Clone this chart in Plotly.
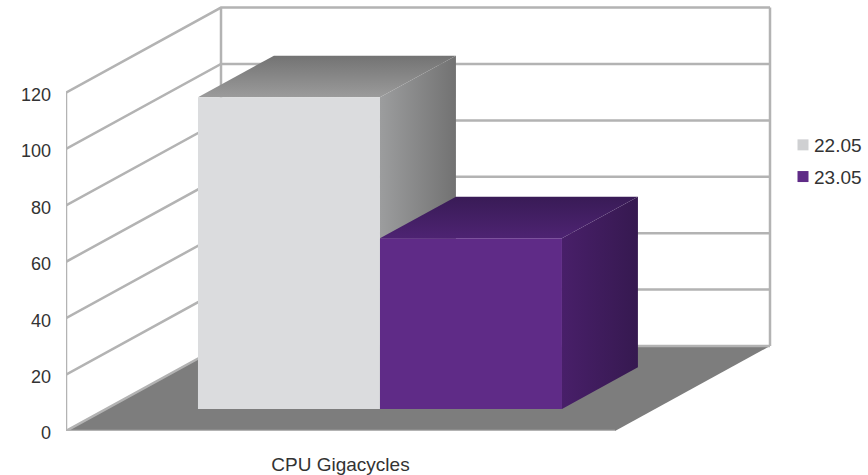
import plotly.graph_objects as go

categories = ["CPU Gigacycles"]
series_names = ["22.05", "23.05"]
series_values = [110.5, 60.5]
y_ticks = [0, 20, 40, 60, 80, 100, 120]

front_colors = ["#dbdcde", "#5f2b87"]
legend_colors = ["#cfd0d2", "#5f2b87"]
top_grad = [("#9b9b9b", "#737373"), ("#4d2372", "#391b56")]
side_grad = [("#9c9d9e", "#727272"), ("#481f69", "#361950")]

PX_X = 549.0          # pixels per category width
PX_Y = 2.82           # pixels per value unit
DEPTH_X = 155 / PX_X  # full depth, in x units
DEPTH_Y = 85 / PX_Y   # full depth, in y units
BAR_START = 0.167
BAR_WIDTH = 0.3315
BAR_D0, BAR_D1 = 0.26, 0.75
YMAX = 120


def proj(x, y, d):
    return x + d * DEPTH_X, y + d * DEPTH_Y


def poly(points):
    pts = [proj(*p) for p in points] + [proj(*points[0])]
    return [p[0] for p in pts], [p[1] for p in pts]


def face(points, name, color=None, grad=None, gtype="vertical"):
    xs, ys = poly(points)
    kw = dict(x=xs, y=ys, mode="none", fill="toself", hoverinfo="skip",
              showlegend=False, name=name, cliponaxis=False)
    if grad:
        kw["fillgradient"] = dict(type=gtype, colorscale=[[0, grad[0]], [1, grad[1]]])
    else:
        kw["fillcolor"] = color
    return go.Scatter(**kw)


fig = go.Figure()

# floor
fig.add_trace(face([(0, 0, 0), (1, 0, 0), (1, 0, 1), (0, 0, 1)], "floor", color="#7d7d7d"))

# walls: grid lines
gx, gy = [], []
for v in y_ticks:
    for p in [(0, v, 0), (0, v, 1), (1, v, 1)]:
        a, b = proj(*p)
        gx.append(a)
        gy.append(b)
    gx.append(None)
    gy.append(None)
for p0, p1 in [((0, 0, 0), (0, YMAX, 0)), ((0, 0, 1), (0, YMAX, 1)), ((1, 0, 1), (1, YMAX, 1)),
               ((0, 0, 0), (1, 0, 0))]:
    a, b = proj(*p0)
    c, d = proj(*p1)
    gx += [a, c, None]
    gy += [b, d, None]
fig.add_trace(go.Scatter(x=gx, y=gy, mode="lines", line=dict(color="#b3b3b3", width=2.5),
                         hoverinfo="skip", showlegend=False, cliponaxis=False))

# bars
for i, (name, v) in enumerate(zip(series_names, series_values)):
    x0 = BAR_START + i * BAR_WIDTH
    x1 = x0 + BAR_WIDTH
    fig.add_trace(face([(x1, 0, BAR_D0), (x1, 0, BAR_D1), (x1, v, BAR_D1), (x1, v, BAR_D0)],
                       name, grad=side_grad[i], gtype="horizontal"))
    fig.add_trace(face([(x0, v, BAR_D0), (x1, v, BAR_D0), (x1, v, BAR_D1), (x0, v, BAR_D1)],
                       name, grad=top_grad[i]))
    fig.add_trace(face([(x0, 0, BAR_D0), (x1, 0, BAR_D0), (x1, v, BAR_D0), (x0, v, BAR_D0)],
                       name, color=front_colors[i]))

# legend entries
for i, name in enumerate(series_names):
    fig.add_trace(go.Scatter(x=[None], y=[None], mode="markers", name=name,
                             legendgroup=name,
                             marker=dict(symbol="square", size=11, color=legend_colors[i])))

TICK_FONT = dict(family="Liberation Sans", size=18, color="#333333")
TEXT_FONT = dict(family="Liberation Sans", size=19, color="#333333")
fig.update_layout(
    width=868, height=475,
    margin=dict(l=66, r=0, t=5, b=44, pad=0),
    paper_bgcolor="white", plot_bgcolor="white",
    font=TICK_FONT,
    showlegend=True,
    legend=dict(x=(774 - 66) / 802, xanchor="left",
                y=1 - 121 / 426, yanchor="top", tracegroupgap=4, bgcolor="rgba(0,0,0,0)",
                font=TEXT_FONT),
    xaxis=dict(range=[0, 802 / PX_X], showgrid=False, zeroline=False, showline=False,
               tickvals=[0.5], ticktext=categories, ticks="", ticklabelstandoff=20,
               tickfont=TEXT_FONT, automargin=False, fixedrange=True),
    yaxis=dict(range=[0, 426 / PX_Y], showgrid=False, zeroline=False, showline=False,
               tickvals=y_ticks, ticks="", ticklabelstandoff=14, automargin=False,
               fixedrange=True),
)

post = """
document.body.style.margin = '0';
document.querySelectorAll('.legendpoints path').forEach(function (p) {
  p.setAttribute('transform', 'translate(29,0)');
});
document.querySelectorAll('.ytick text').forEach(function (t) {
  t.setAttribute('y', parseFloat(t.getAttribute('y') || 0) + 2);
});
"""
fig.write_html("out.html", post_script=post, config=dict(displayModeBar=False))
